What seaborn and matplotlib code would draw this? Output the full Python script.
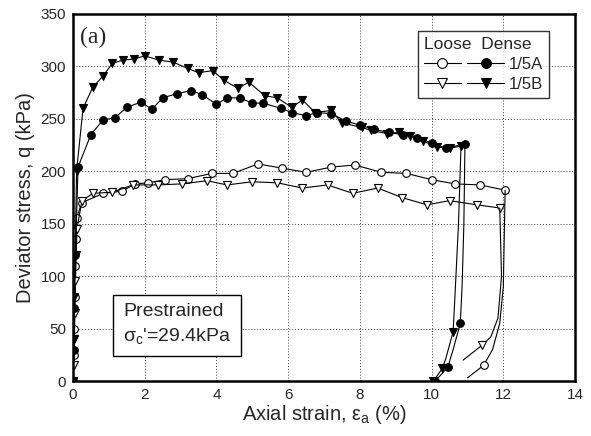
import numpy as np
import pandas as pd
import matplotlib.pyplot as plt
import seaborn as sns
from matplotlib.lines import Line2D

# -----------------------------
# Data
# -----------------------------
# Dense 1/5A (filled circles), loading branch
dense_a_strain = [0, 0.02, 0.04, 0.07, 0.14, 0.5, 0.84, 1.17, 1.5, 1.9, 2.2, 2.5, 2.9, 3.3,
                  3.6, 4.0, 4.3, 4.65, 5.0, 5.3, 5.8, 6.1, 6.5, 6.8, 7.2, 7.6, 8.0, 8.4,
                  8.8, 9.2, 9.6, 10.0, 10.4, 10.93]
dense_a_q = [0, 30, 70, 120, 204, 235, 249, 251, 261, 266, 259, 270, 274, 277,
             273, 264, 270, 270, 265, 265, 260, 256, 253, 256, 255, 248, 244, 240,
             237, 235, 232, 227, 222, 226]

# Dense 1/5B (filled triangles), loading branch
dense_b_strain = [0, 0.02, 0.04, 0.06, 0.1, 0.28, 0.55, 0.84, 1.1, 1.4, 1.7, 2.0, 2.4, 2.8,
                  3.2, 3.5, 3.9, 4.2, 4.6, 4.9, 5.35, 5.7, 6.1, 6.4, 6.75, 7.2, 7.5, 8.05,
                  8.3, 8.75, 9.1, 9.4, 9.75, 10.15, 10.5, 10.82]
dense_b_q = [0, 40, 80, 120, 200, 260, 280, 291, 303, 306, 307, 310, 306, 304,
             298, 294, 296, 287, 279, 285, 272, 270, 261, 268, 256, 258, 246, 242,
             239, 236, 237, 234, 229, 223, 222, 224]

# Loose 1/5A (open circles), loading branch
loose_a_strain = [0, 0.03, 0.04, 0.05, 0.06, 0.08, 0.1, 0.24, 0.85, 1.37, 1.73, 2.1, 2.57,
                  3.2, 3.88, 4.46, 5.16, 5.83, 6.5, 7.2, 7.86, 8.6, 9.3, 10.0, 10.65,
                  11.35, 12.05]
loose_a_q = [0, 25, 50, 80, 110, 135, 155, 170, 179, 181, 188, 189, 192,
             193, 198, 198, 207, 203, 199, 204, 206, 199, 198, 192, 188,
             187, 182]

# Loose 1/5B (open triangles), loading branch
loose_b_strain = [0, 0.02, 0.04, 0.05, 0.07, 0.09, 0.11, 0.25, 0.56, 1.09, 1.67, 2.37, 3.04,
                  3.74, 4.29, 5.0, 5.7, 6.4, 7.1, 7.8, 8.5, 9.17, 9.87, 10.5, 11.27, 11.9]
loose_b_q = [0, 15, 40, 65, 95, 120, 145, 172, 179, 180, 187, 187, 188,
             191, 187, 190, 189, 184, 187, 179, 184, 175, 168, 172, 168, 165]

# Unloading branches (markers only at some points)
dense_a_un_strain = [10.93, 10.9, 10.85, 10.8, 10.6, 10.45, 10.1]
dense_a_un_q = [226, 150, 90, 55, 30, 13, 0]
dense_a_un_marks = [3, 5, 6]

dense_b_un_strain = [10.82, 10.75, 10.65, 10.6, 10.4, 10.3, 10.05]
dense_b_un_q = [224, 150, 80, 47, 22, 12, 0]
dense_b_un_marks = [3, 5, 6]

loose_a_un_strain = [12.05, 12.0, 11.9, 11.7, 11.45, 11.0]
loose_a_un_q = [182, 90, 55, 30, 15, 3]
loose_a_un_marks = [4]

loose_b_un_strain = [11.9, 11.95, 11.85, 11.65, 11.4, 10.88]
loose_b_un_q = [165, 100, 60, 42, 34, 20]
loose_b_un_marks = [4]

x_ticks = [0, 2, 4, 6, 8, 10, 12, 14]
y_ticks = [0, 50, 100, 150, 200, 250, 300, 350]

# -----------------------------
# Plot
# -----------------------------
sns.set_style("white")
plt.rcParams["font.family"] = ["Liberation Sans", "DejaVu Sans"]
plt.rcParams["mathtext.fontset"] = "custom"
plt.rcParams["mathtext.rm"] = "Liberation Sans"

fig = plt.figure(figsize=(5.91, 4.36), dpi=100)
ax = fig.add_axes([0.1235, 0.126, 0.8495, 0.842])

styles = {
    "dense_a": dict(marker="o", markerfacecolor="black"),
    "dense_b": dict(marker="v", markerfacecolor="black"),
    "loose_a": dict(marker="o", markerfacecolor="white"),
    "loose_b": dict(marker="v", markerfacecolor="white"),
}
common = dict(color="black", lw=0.8, markersize=5.5, markeredgecolor="black",
              markeredgewidth=0.8, sort=False, estimator=None, ax=ax)

series = [
    ("loose_a", loose_a_strain, loose_a_q, loose_a_un_strain, loose_a_un_q, loose_a_un_marks),
    ("loose_b", loose_b_strain, loose_b_q, loose_b_un_strain, loose_b_un_q, loose_b_un_marks),
    ("dense_a", dense_a_strain, dense_a_q, dense_a_un_strain, dense_a_un_q, dense_a_un_marks),
    ("dense_b", dense_b_strain, dense_b_q, dense_b_un_strain, dense_b_un_q, dense_b_un_marks),
]
for key, xs, ys, ux, uy, marks in series:
    sns.lineplot(x=xs, y=ys, **styles[key], **common)
    sns.lineplot(x=ux, y=uy, markevery=marks, **styles[key], **common)

ax.set_xlim(0, 14)
ax.set_ylim(0, 350)
ax.set_xticks(x_ticks)
ax.set_yticks(y_ticks)
ax.grid(True, ls=(0, (1, 2)), color="#444444", lw=0.7)
ax.tick_params(length=0, labelsize=11, pad=5)
for sp in ax.spines.values():
    sp.set_linewidth(1.8)
    sp.set_color("black")

ax.set_xlabel("Axial strain, ε$_\\mathregular{a}$ (%)", fontsize=14.5, labelpad=1)
ax.set_ylabel("Deviator stress, q (kPa)", fontsize=14.5, labelpad=4)

ax.text(0.014, 0.965, "(a)", transform=ax.transAxes, fontsize=17,
        family=["Liberation Serif", "DejaVu Serif"], va="top", ha="left")

ax.text(0.1, 0.153, "Prestrained\nσ$_\\mathregular{c}$'=29.4kPa",
        transform=ax.transAxes, fontsize=14, va="center", ha="left", linespacing=1.4,
        bbox=dict(boxstyle="square,pad=0.5", fc="white", ec="black", lw=1.0))

# Legend: two columns (Loose / Dense)
def handle(key):
    return Line2D([], [], color="black", lw=0.8, markersize=7,
                  markeredgecolor="black", markeredgewidth=0.8, **styles[key])

handles = [handle("loose_a"), handle("loose_b"), handle("dense_a"), handle("dense_b")]
labels = ["", "", "1/5A", "1/5B"]
leg = ax.legend(handles, labels, ncol=2, title="Loose  Dense", loc="upper right",
                bbox_to_anchor=(0.965, 0.975), fontsize=12, title_fontsize=12.5,
                frameon=True, fancybox=False, edgecolor="black", handlelength=2.2,
                handletextpad=0.3, columnspacing=0.1, borderpad=0.35, labelspacing=0.3,
                alignment="left")
leg.get_frame().set_linewidth(1.0)

plt.savefig("out.png", dpi=100)
